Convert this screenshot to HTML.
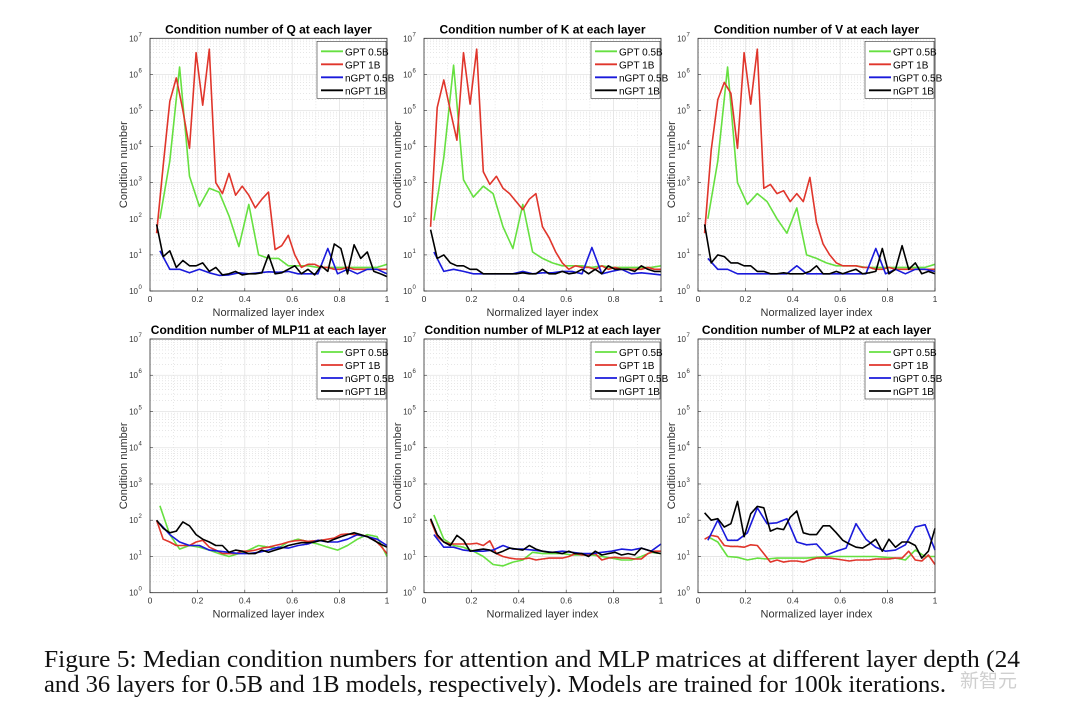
<!DOCTYPE html>
<html><head><meta charset="utf-8"><style>
html,body{margin:0;padding:0;background:#fff;}
svg{display:block;font-family:"Liberation Sans",sans-serif;}
</style></head><body>
<svg id="fig" width="1080" height="721" viewBox="0 0 1080 721">
<text x="44" y="667" font-family="Liberation Serif,serif" font-size="24" textLength="976" lengthAdjust="spacingAndGlyphs" fill="#111">Figure 5:  Median condition numbers for attention and MLP matrices at different layer depth (24</text>
<text x="44" y="692" font-family="Liberation Serif,serif" font-size="24" textLength="902" lengthAdjust="spacingAndGlyphs" fill="#111">and 36 layers for 0.5B and 1B models, respectively). Models are trained for 100k iterations.</text>
<text x="960" y="687" font-family="'Noto Sans CJK SC',sans-serif" font-size="19" fill="#bbb" opacity="0.7">新智元</text>
</svg>
<script>
// ---- data ----
const panelTitles = ["Condition number of Q at each layer","Condition number of K at each layer","Condition number of V at each layer","Condition number of MLP11 at each layer","Condition number of MLP12 at each layer","Condition number of MLP2 at each layer"];
const seriesNames = ["GPT 0.5B","GPT 1B","nGPT 0.5B","nGPT 1B"];
const seriesColors = ["#66e040","#e0352b","#1a1adb","#000000"];
const xTicks = [0,0.2,0.4,0.6,0.8,1];
const xTickLabels = ["0","0.2","0.4","0.6","0.8","1"];
const yTickExps = [0,1,2,3,4,5,6,7];

const q_gpt05 = [100,4000,1.6e6,1500,220,700,550,120,17,250,10,8,8,5,5,5,4.5,4.5,4.5,4.5,4.5,4.5,4.5,5.5];
const q_gpt1 = [40,3000,1.8e5,8e5,1e5,9000,4e6,1.4e5,5e6,1000,500,1800,450,800,450,200,350,550,14,18,35,10,4.5,5.5,5.5,4.5,4.5,4,4,4.5,4,4,4,4,4,4];
const q_ngpt05 = [13,4,4,3.2,4,3.2,2.7,2.8,3.2,3,3.2,3.4,3.3,3.5,3,3,3,15,3,4,3,4,4,3];
const q_ngpt1 = [70,9,13,4.5,7,5,5,6,3.5,4.5,2.8,3,3.5,2.8,3,3,3.2,10,3,3.2,4,5,3,4,2.8,5,3.5,20,15,3,19,8,12,3.5,3,2.5];

const k_gpt05 = [90,5000,1.8e6,1200,400,800,500,60,15,250,12,8,6,5,5,5,4.5,5,4.5,4.5,4.5,4.5,4.5,5];
const k_gpt1 = [60,1.2e5,7e5,1e5,1.5e4,4e6,1.5e5,5e6,2000,900,1500,700,500,300,180,350,500,60,30,12,6,4,5,4.5,4.5,4,5,4,4.5,4,4,4,4,4.5,4,4];
const k_ngpt05 = [12,3.5,4,3.5,3,3,3,3,3,3.5,3,3.2,3.2,3.5,3.5,3,16,3,3.5,4,3,3.2,3,2.8];
const k_ngpt1 = [50,8,10,6,5,5,4,4,3,3,3,3,3,3,3.2,3,3,4,3,3,3.5,3,3.2,4,3,4,3,5,4,4,4,3.5,5,4,3.5,3.5];

const v_gpt05 = [100,4000,1.6e6,1000,250,500,300,100,40,200,10,8,6,5,5,5,4.5,4.5,4.5,4.5,4.5,4.5,4.5,5.5];
const v_gpt1 = [40,8000,2e5,6e5,3e5,9000,4e6,1.5e5,5e6,700,900,500,600,300,500,300,1400,80,20,10,6,5,5,5,4.5,4.5,4,4,4.5,4,4,4,4,4,4,4];
const v_ngpt05 = [8,4,4,3,3,3,3,3,3,5,3,3,3,3,3,3,3,15,3,4,3,4,4,3.5];
const v_ngpt1 = [70,6,10,9,6,6,5,5,3.5,3.5,3,3,3.2,3,3,3,3.5,5,3,3,3.5,3,3.5,4,3,3.2,3.5,15,3,4,18,4,6,3,3.5,3];

const m11_gpt05 = [250,40,16,20,18,15,12,10,12,15,20,18,17,25,30,25,22,18,15,20,30,40,35,10];
const m11_gpt1 = [100,30,25,20,20,20,25,28,18,15,12,12,12,14,14,15,17,18,20,22,25,27,28,26,27,28,30,32,40,42,40,38,36,30,20,12];
const m11_ngpt05 = [80,40,25,20,20,15,14,13,12,12,13,15,18,17,20,22,28,25,25,30,40,35,30,20];
const m11_ngpt1 = [100,60,45,50,90,70,40,30,25,20,20,13,15,14,12,12,15,13,15,17,20,22,24,24,25,28,25,30,35,40,45,40,35,28,22,18];

const m12_gpt05 = [140,30,20,18,14,10,6,5.5,7,8,13,12,12,12,11,11,11,10,9,8,8,10,13,12];
const m12_gpt1 = [100,35,25,22,22,22,22,23,20,27,12,10,9,8.5,8.5,9,8,8.5,9,9,9,10,12,11,11,12,8,9,9.5,9,9,8.5,8.5,12,14,14];
const m12_ngpt05 = [40,18,18,15,14,14,15,20,16,16,15,14,13,14,13,12,12,13,14,16,15,17,14,22];
const m12_ngpt1 = [110,40,25,20,38,28,14,15,16,15,12,14,17,16,15,20,16,14,13,13,12,14,12,12,10,14,11,12,13,11,12,11,17,15,13,12];

const m2_gpt05 = [35,25,10,9.5,8,9,8.5,9,9,9,9,9.5,10,10,10,10,10,10,9.5,9,8,15,10,10];
const m2_gpt1 = [30,38,35,20,19,19,18,21,20,12,7,8,7,7.5,7.5,7,8,9,9,9,8.5,8,7.5,8,8,8,8.5,8.5,8.5,9,9,14,8,7.5,11,6];
const m2_ngpt05 = [28,100,28,28,45,220,80,85,110,25,21,22,11,14,17,80,30,18,14,15,21,65,75,15];
const m2_ngpt1 = [160,100,110,65,80,330,35,150,240,220,50,60,55,120,180,45,40,40,70,70,45,28,22,18,17,22,30,14,30,18,25,25,20,9,14,60];

const panelData = [
 [q_gpt05,q_gpt1,q_ngpt05,q_ngpt1],
 [k_gpt05,k_gpt1,k_ngpt05,k_ngpt1],
 [v_gpt05,v_gpt1,v_ngpt05,v_ngpt1],
 [m11_gpt05,m11_gpt1,m11_ngpt05,m11_ngpt1],
 [m12_gpt05,m12_gpt1,m12_ngpt05,m12_ngpt1],
 [m2_gpt05,m2_gpt1,m2_ngpt05,m2_ngpt1]
];

// ---- drawing ----
const NS="http://www.w3.org/2000/svg";
const svg=document.getElementById('fig');
function el(tag,attrs,parent){const e=document.createElementNS(NS,tag);for(const k in attrs)e.setAttribute(k,attrs[k]);(parent||svg).appendChild(e);return e;}
const colX=[150,424,698], W=237;
const rowY=[[38.3,291],[339,592.7]];

panelData.forEach((series,p)=>{
  const x0=colX[p%3], x1=x0+W;
  const yTop=rowY[Math.floor(p/3)][0], yBot=rowY[Math.floor(p/3)][1];
  const g=el('g',{});
  
  
  const sx=v=>x0+v*(x1-x0);
  const sy=c=>yBot-Math.log10(c)/7*(yBot-yTop);
  for(let d=0;d<7;d++)for(let m=2;m<10;m++){
    const y=sy(m*Math.pow(10,d));
    el('line',{x1:x0,x2:x1,y1:y,y2:y,stroke:'#d8d8d8','stroke-width':0.6,'stroke-dasharray':'1,2'},g);
  }
  for(let i=1;i<10;i+=2){const x=sx(i/10);el('line',{x1:x,x2:x,y1:yTop,y2:yBot,stroke:'#d8d8d8','stroke-width':0.6,'stroke-dasharray':'1,2'},g);}
  xTicks.forEach(t=>{const x=sx(t);el('line',{x1:x,x2:x,y1:yTop,y2:yBot,stroke:'#e3e3e3','stroke-width':0.8},g);});
  yTickExps.forEach(e=>{const y=sy(Math.pow(10,e));el('line',{x1:x0,x2:x1,y1:y,y2:y,stroke:'#e3e3e3','stroke-width':0.8},g);});
  series.forEach((vals,s)=>{
    const n=vals.length;
    const pts=vals.map((v,i)=>sx((i+1)/n).toFixed(1)+','+sy(v).toFixed(1)).join(' ');
    const pl=el('polyline',{points:pts,fill:'none',stroke:seriesColors[s],'stroke-width':1.6,'stroke-linejoin':'round'},g);
    
    
  });
  el('rect',{x:x0,y:yTop,width:W,height:yBot-yTop,fill:'none',stroke:'#333','stroke-width':0.8},g);
  xTicks.forEach((t,i)=>{
    const x=sx(t);
    el('line',{x1:x,x2:x,y1:yBot,y2:yBot-3,stroke:'#333','stroke-width':0.6},g);
    const tx=el('text',{x:x,y:yBot+11,'font-size':8.5,'text-anchor':'middle',fill:'#333'},g);
    tx.textContent=xTickLabels[i];
    
    
  });
  yTickExps.forEach(e=>{
    const y=sy(Math.pow(10,e));
    el('line',{x1:x0,x2:x0+3,y1:y,y2:y,stroke:'#333','stroke-width':0.6},g);
    const tx=el('text',{x:x0-12,y:y+3,'font-size':8,'text-anchor':'end',fill:'#333'},g);
    tx.textContent='10';
    
    
    const sup=el('text',{x:x0-11.5,y:y-2,'font-size':6,fill:'#333'},g);
    sup.textContent=String(e);
  });
  const ti=el('text',{x:(x0+x1)/2,y:yTop-5,'font-size':12,'font-weight':'bold','text-anchor':'middle',fill:'#000'},g);
  ti.textContent=panelTitles[p];
  
  
  const xl=el('text',{x:(x0+x1)/2,y:yBot+25,'font-size':11,'text-anchor':'middle',fill:'#333'},g);
  xl.textContent='Normalized layer index';
  
  
  const yc=(yTop+yBot)/2;
  const yl=el('text',{x:x0-23,y:yc,'font-size':11,'text-anchor':'middle',fill:'#333',transform:`rotate(-90 ${x0-23} ${yc})`},g);
  yl.textContent='Condition number';
  
  
  const lg=el('g',{},g);
  
  
  const lx=x1-70, ly=yTop+3;
  el('rect',{x:lx,y:ly,width:69,height:57,fill:'#fff',stroke:'#333','stroke-width':0.6},lg);
  seriesNames.forEach((nm,s)=>{
    const y=ly+10+s*13;
    el('line',{x1:lx+4,x2:lx+26,y1:y,y2:y,stroke:seriesColors[s],'stroke-width':1.8},lg);
    const t=el('text',{x:lx+28,y:y+4,'font-size':10,fill:'#000'},lg);
    t.textContent=nm;
    
    
  });
});
</script>
</body></html>
